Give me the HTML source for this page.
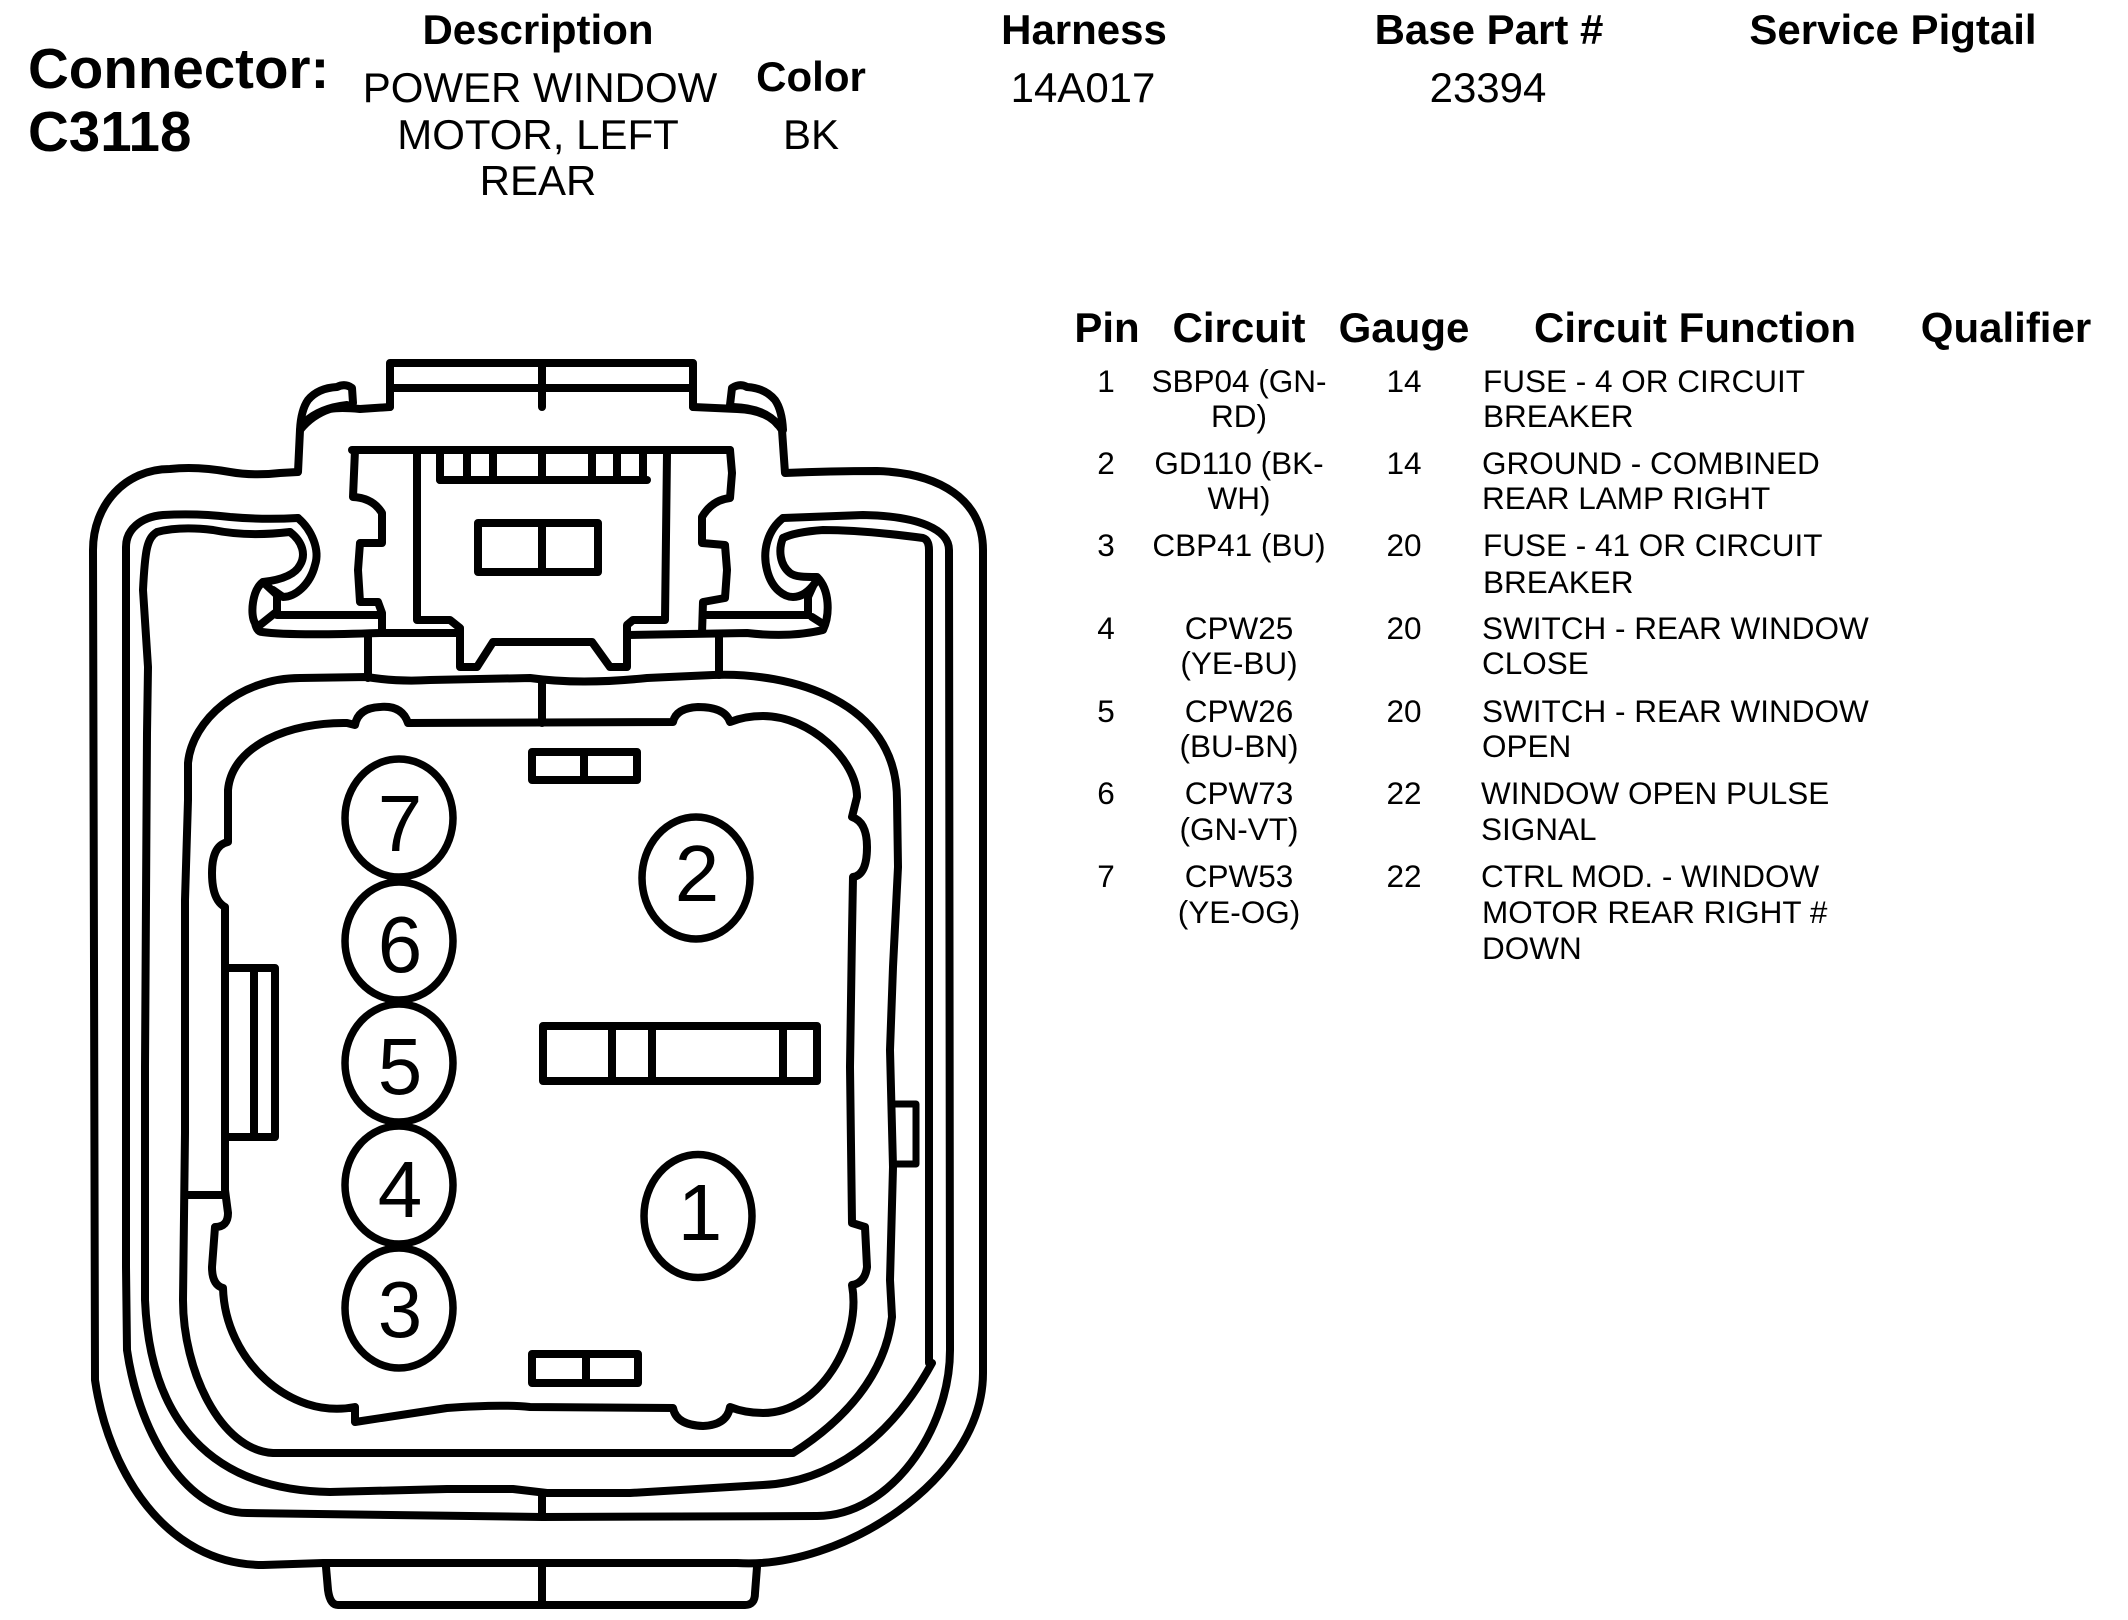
<!DOCTYPE html>
<html><head><meta charset="utf-8"><style>
html,body{margin:0;padding:0;background:#fff}
svg{display:block}
text{font-family:"Liberation Sans",Arial,sans-serif;fill:#000}
.b{font-weight:bold;font-size:42px;text-anchor:middle}
.r{font-size:42px;text-anchor:middle}
.t{font-size:31.5px}
.c{font-size:31.5px;text-anchor:middle}
.n{font-size:80px;text-anchor:middle}
</style></head><body>
<svg width="2128" height="1620" viewBox="0 0 2128 1620" xmlns="http://www.w3.org/2000/svg">
<rect width="2128" height="1620" fill="#fff"/>
<text x="28" y="88" font-size="56.5" font-weight="bold">Connector:</text>
<text x="28" y="151" font-size="56.5" font-weight="bold">C3118</text>
<text class="b" x="538" y="44">Description</text>
<text class="r" x="540" y="102">POWER WINDOW</text>
<text class="r" x="538" y="149">MOTOR, LEFT</text>
<text class="r" x="538" y="195">REAR</text>
<text class="b" x="811" y="91">Color</text>
<text class="r" x="811" y="149">BK</text>
<text class="b" x="1084" y="44">Harness</text>
<text class="r" x="1083" y="102">14A017</text>
<text class="b" x="1489" y="44">Base Part #</text>
<text class="r" x="1488" y="102">23394</text>
<text class="b" x="1893" y="44">Service Pigtail</text>

<text class="b" x="1107" y="342">Pin</text>
<text class="b" x="1239" y="342">Circuit</text>
<text class="b" x="1404" y="342">Gauge</text>
<text class="b" x="1695" y="342">Circuit Function</text>
<text class="b" x="2006" y="342">Qualifier</text>

<text class="c" x="1106" y="392">1</text><text class="c" x="1239" y="392">SBP04 (GN-</text><text class="c" x="1239" y="427">RD)</text><text class="c" x="1404" y="392">14</text>
<text class="t" x="1483" y="392">FUSE - 4 OR CIRCUIT</text><text class="t" x="1483" y="427">BREAKER</text>
<text class="c" x="1106" y="474">2</text><text class="c" x="1239" y="474">GD110 (BK-</text><text class="c" x="1239" y="509">WH)</text><text class="c" x="1404" y="474">14</text>
<text class="t" x="1482" y="474">GROUND - COMBINED</text><text class="t" x="1482" y="509">REAR LAMP RIGHT</text>
<text class="c" x="1106" y="556">3</text><text class="c" x="1239" y="556">CBP41 (BU)</text><text class="c" x="1404" y="556">20</text>
<text class="t" x="1483" y="556">FUSE - 41 OR CIRCUIT</text><text class="t" x="1483" y="593">BREAKER</text>
<text class="c" x="1106" y="639">4</text><text class="c" x="1239" y="639">CPW25</text><text class="c" x="1239" y="674">(YE-BU)</text><text class="c" x="1404" y="639">20</text>
<text class="t" x="1482" y="639">SWITCH - REAR WINDOW</text><text class="t" x="1482" y="674">CLOSE</text>
<text class="c" x="1106" y="722">5</text><text class="c" x="1239" y="722">CPW26</text><text class="c" x="1239" y="757">(BU-BN)</text><text class="c" x="1404" y="722">20</text>
<text class="t" x="1482" y="722">SWITCH - REAR WINDOW</text><text class="t" x="1482" y="757">OPEN</text>
<text class="c" x="1106" y="804">6</text><text class="c" x="1239" y="804">CPW73</text><text class="c" x="1239" y="840">(GN-VT)</text><text class="c" x="1404" y="804">22</text>
<text class="t" x="1481" y="804">WINDOW OPEN PULSE</text><text class="t" x="1481" y="840">SIGNAL</text>
<text class="c" x="1106" y="887">7</text><text class="c" x="1239" y="887">CPW53</text><text class="c" x="1239" y="923">(YE-OG)</text><text class="c" x="1404" y="887">22</text>
<text class="t" x="1481" y="887">CTRL MOD. - WINDOW</text><text class="t" x="1482" y="923">MOTOR REAR RIGHT #</text><text class="t" x="1482" y="959">DOWN</text>

<g fill="none" stroke="#000" stroke-width="8" stroke-linejoin="round" stroke-linecap="round">
<!-- top tab -->
<path d="M390 407V363H693V407M390 388H693M542 363V407"/>
<!-- outer shell -->
<path d="M390 407L360 409Q340 407 330 409Q312 415 300 430L298 472L280 473Q253 476 230 472Q197 466 170 469C125 469 93 505 93 550L95 1380C108 1470 165 1565 263 1565L323 1563L737 1563C840 1570 983 1480 983 1373L983 550C983 500 940 473 877 471Q830 471 785 473L782 430Q770 410 737 409L693 407"/>
<!-- ears -->
<path d="M353 403L352 388Q345 383 337 387Q318 388 308 400Q301 410 300 430"/>
<path d="M305 422Q320 408 347 405"/>
<path d="M730 405L732 388Q740 383 747 387Q765 388 775 400Q782 410 783 430"/>
<path d="M733 407Q765 408 778 425"/>
<!-- loop A -->
<path d="M298 518Q263 520 230 517Q197 513 163 515C140 517 126 530 126 547L126 1267L127 1350C140 1440 190 1513 247 1513L542 1517L817 1516C890 1516 950 1430 950 1350L949 550C949 530 920 516 863 515L783 518"/>
<!-- left hook -->
<path d="M298 518C312 530 320 550 315 565C310 585 295 597 283 597L273 590"/>
<path d="M290 532C303 542 306 555 300 565C295 575 280 580 263 582C252 590 250 615 255 623Q257 632 262 632Q290 636 380 633L458 633"/>
<path d="M263 582L277 595V615H378M275 613L260 625"/>
<!-- right hook -->
<path d="M783 518C768 530 762 550 767 570C772 590 785 597 793 597C803 597 810 590 815 583"/>
<path d="M783 538C778 550 780 565 790 573C795 577 805 577 817 577C830 590 830 615 823 630Q790 638 747 633L627 635"/>
<path d="M813 586L808 597V615H707M812 617L823 624"/>
<!-- loop B -->
<path d="M290 532Q247 537 213 530Q180 526 157 532C147 538 145 550 143 590L148 667L147 733L145 1067L145 1300C150 1420 210 1490 330 1492L447 1489L513 1489L547 1493L630 1493L763 1485C830 1482 890 1440 932 1363L929 1363V550Q929 540 923 538Q863 530 823 530Q795 532 783 538"/>
<!-- loop D -->
<path d="M793 1453L273 1453C220 1450 183 1370 183 1300L185 1133L185 900L188 800L188 763C192 720 240 678 300 678L367 677Q397 682 430 680L530 678Q580 685 647 678L713 675C790 672 897 700 897 800L898 867L893 967L890 1050L893 1167L890 1280L892 1317C885 1375 845 1420 793 1453"/>
<!-- socket -->
<path d="M352 450H730"/>
<path d="M355 450L353 497Q373 498 382 513V543H360L358 570L360 602H378L382 613V633"/>
<path d="M730 450L732 473L730 498Q712 500 702 517V543L725 545L727 570L725 598L703 602L702 633"/>
<path d="M417 453V620H450L460 628V667H477L493 642H592L610 667H627V625L633 620H665L667 453"/>
<path d="M440 453V480M467 453V480M493 453V480M542 453V480M592 453V480M617 453V480M643 453V480"/>
<path d="M440 480H647"/>
<path d="M478 523H598V572H478Z"/>
<path d="M542 523V572"/>
<!-- connector verticals -->
<path d="M368 636V678M719 636V675M542 681V723M542 1494V1516"/>
<!-- inner body -->
<path d="M408 723L673 722Q676 708 698 707Q725 707 730 722Q745 716 763 716C810 716 857 760 857 797L852 817Q867 822 867 847Q867 875 853 877L852 933L850 1067L852 1223L865 1227L867 1267Q865 1283 852 1285C862 1340 820 1413 763 1413Q745 1413 730 1407Q727 1425 703 1426Q676 1425 673 1408L530 1407Q500 1404 447 1408L355 1422V1407C290 1420 225 1360 223 1288Q212 1285 212 1267L215 1227Q228 1227 228 1213L225 1190L225 907Q212 900 212 873Q212 845 228 842V790C232 745 290 722 347 723L355 725Q358 708 380 707Q402 705 408 723Z"/>
<!-- pins -->
<g stroke-width="7.5">
<ellipse cx="399" cy="818" rx="54" ry="59"/>
<ellipse cx="399" cy="941" rx="54" ry="59"/>
<ellipse cx="399" cy="1063" rx="54" ry="59"/>
<ellipse cx="399" cy="1185" rx="54" ry="59"/>
<ellipse cx="399" cy="1308" rx="54" ry="60"/>
<ellipse cx="696" cy="878" rx="54" ry="61"/>
<ellipse cx="698" cy="1216" rx="54" ry="61.5"/>
</g>
<!-- small rects -->
<path d="M532 752H637V780H532Z"/>
<path d="M584 752V780"/>
<path d="M532 1354H638V1383H532Z"/>
<path d="M586 1354V1383"/>
<!-- mid bar -->
<path d="M543 1026H817V1081H543Z"/>
<path d="M612 1026V1081M652 1026V1081M783 1026V1081"/>
<!-- left slot -->
<path d="M226 968H275V1137H226"/>
<path d="M254 968V1137M185 1195H225"/>
<!-- right nub -->
<path stroke-width="7" d="M893 1104H916V1164H893"/>
<!-- bottom tab -->
<path d="M326 1567L328 1590Q330 1605 338 1605H745Q755 1605 755 1593L757 1567M542 1563V1605"/>
</g>
<g>
<text class="n" x="400" y="851">7</text>
<text class="n" x="400" y="972">6</text>
<text class="n" x="400" y="1094">5</text>
<text class="n" x="400" y="1217">4</text>
<text class="n" x="400" y="1337">3</text>
<text class="n" x="697" y="901">2</text>
<text class="n" x="700" y="1240">1</text>
</g>
</svg>
</body></html>
